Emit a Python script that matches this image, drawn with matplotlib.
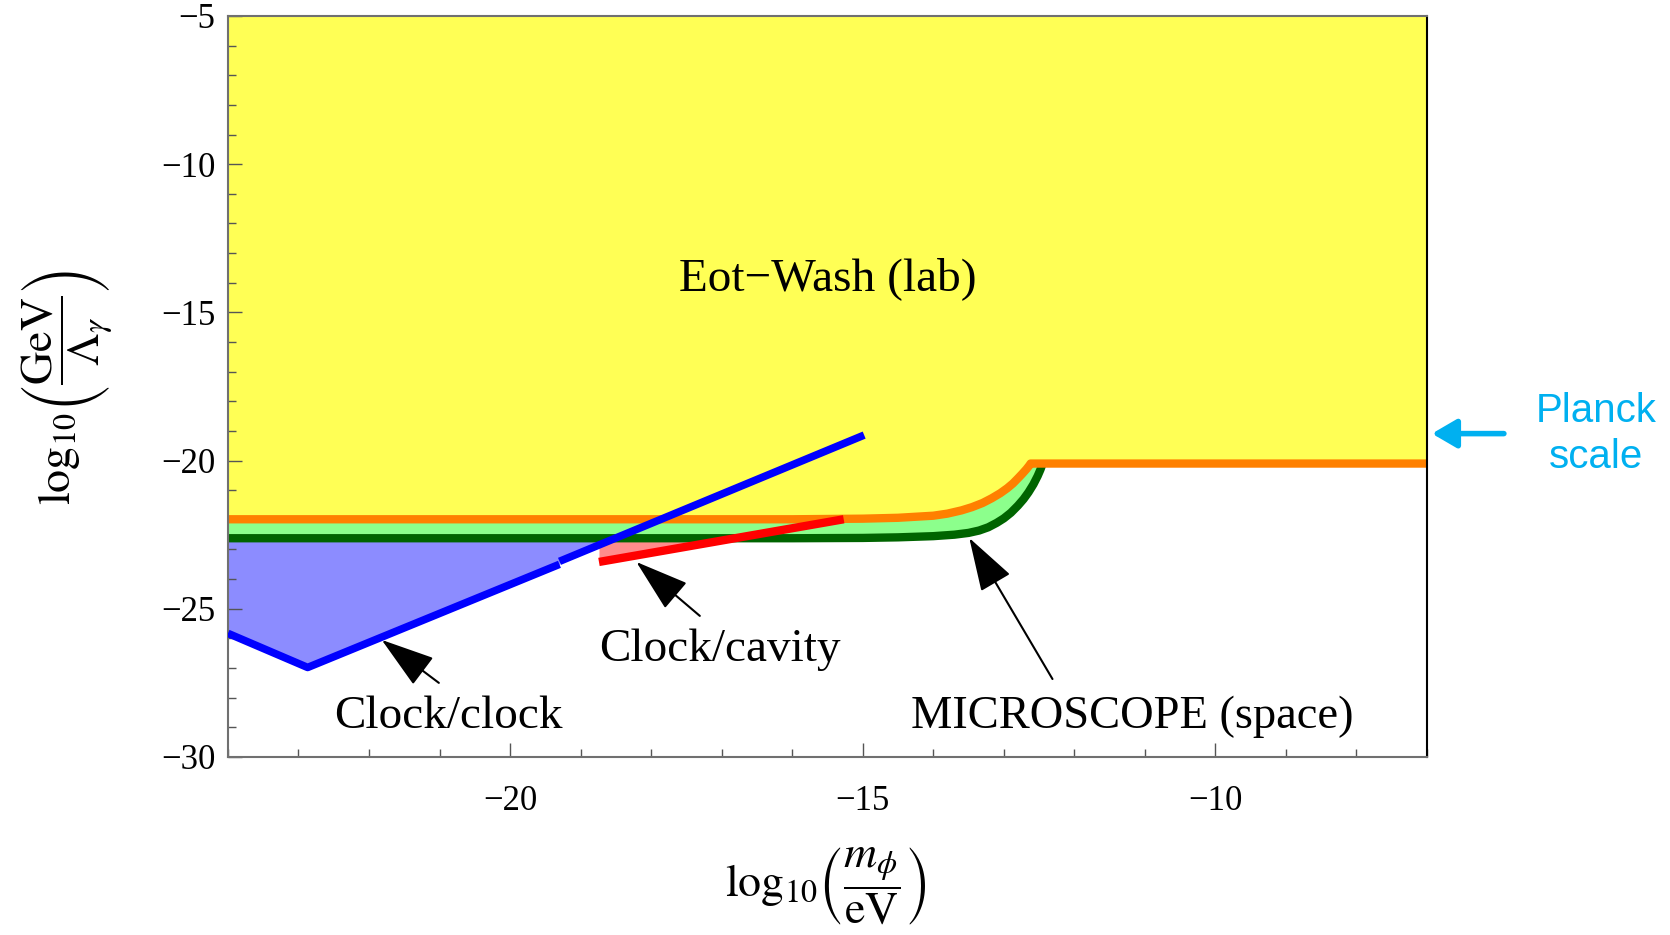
import numpy as np
import matplotlib
matplotlib.use("Agg")
import matplotlib.pyplot as plt
from matplotlib.ticker import MultipleLocator

plt.rcParams['font.family'] = ['Liberation Serif', 'DejaVu Serif']
plt.rcParams['mathtext.fontset'] = 'stix'

# Eot-Wash lower edge (orange)
eot_x = [-24.0, -16.0, -15.0, -14.5, -14.0, -13.8, -13.6, -13.45, -13.3, -13.17, -13.05,
         -12.95, -12.87, -12.8, -12.74, -12.68, -12.64, -12.62, -7.0]
eot_y = [-21.98, -21.98, -21.96, -21.93, -21.86, -21.79, -21.68, -21.57, -21.43, -21.27, -21.1,
         -20.93, -20.77, -20.6, -20.45, -20.29, -20.17, -20.1, -20.1]

# MICROSCOPE lower edge (dark green)
mic_x = [-24.0, -16.0, -15.0, -14.5, -14.0, -13.7, -13.5, -13.35, -13.22, -13.1, -13.0,
         -12.9, -12.8, -12.72, -12.65, -12.58, -12.52, -12.48, -12.45]
mic_y = [-22.62, -22.62, -22.61, -22.59, -22.55, -22.5, -22.44, -22.36, -22.25, -22.1, -21.95,
         -21.76, -21.52, -21.3, -21.07, -20.8, -20.52, -20.3, -20.1]

# clock/clock (blue), two pieces
cc_x1 = [-24.0, -22.87, -19.3]
cc_y1 = [-25.83, -26.98, -23.5]
cc_x2 = [-19.3, -14.98]
cc_y2 = [-23.4, -19.14]

# clock/cavity (red)
cav_x = [-18.74, -15.27]
cav_y = [-23.42, -21.98]

planck = -19.09

fig = plt.figure(figsize=(16.7, 9.35), dpi=100)
ax = fig.add_axes([0.1365, 0.1904, 0.718, 0.7925])

ax.fill_between(eot_x, eot_y, -5, color='#ffff55', lw=0, zorder=1)
ax.fill(list(eot_x[:-1]) + mic_x[::-1], list(eot_y[:-1]) + mic_y[::-1],
        color='#8cff8c', lw=0, zorder=1)

cc_x = np.array(cc_x1 + cc_x2)
cc_y = np.array(cc_y1 + cc_y2)
mic_at_cc = np.interp(cc_x, mic_x, mic_y)
ax.fill_between(cc_x, cc_y, mic_at_cc, where=cc_y < mic_at_cc, interpolate=True,
                color='#8c8cff', lw=0, zorder=1)
cav_xa = np.array(cav_x)
cav_ya = np.array(cav_y)
mic_at_cav = np.interp(cav_xa, mic_x, mic_y)
ax.fill_between(cav_xa, cav_ya, mic_at_cav, where=cav_ya < mic_at_cav, interpolate=True,
                color='#ff8c8c', lw=0, zorder=1)

ax.plot(mic_x, mic_y, color='#006400', lw=6, zorder=2, solid_capstyle='butt')
ax.plot(eot_x, eot_y, color='#ff8000', lw=6, zorder=2, solid_capstyle='butt')
ax.plot(cc_x1, cc_y1, color='#0000ff', lw=5.5, zorder=3, solid_capstyle='butt')
ax.plot(cc_x2, cc_y2, color='#0000ff', lw=5.5, zorder=3, solid_capstyle='butt')
ax.plot(cav_x, cav_y, color='#ff0000', lw=6, zorder=3, solid_capstyle='butt')

ax.set_xlim(-24, -7)
ax.set_ylim(-30, -5)
ax.set_xticks([-20, -15, -10])
ax.set_yticks([-30, -25, -20, -15, -10, -5])
ax.xaxis.set_minor_locator(MultipleLocator(1))
ax.yaxis.set_minor_locator(MultipleLocator(1))
ax.tick_params(which='both', direction='in', top=False, right=False, color='#555555', width=1)
ax.tick_params(which='major', length=10, labelsize=25)
ax.tick_params(which='minor', length=6)
ax.tick_params(axis='x', pad=20)
ax.tick_params(axis='y', pad=9)
for s in ['left', 'bottom', 'top']:
    ax.spines[s].set_color('#707070')
    ax.spines[s].set_linewidth(1.5)
ax.spines['right'].set_color('black')
ax.spines['right'].set_linewidth(1.5)

ax.text(-15.5, -13.87, 'Eot\u2212Wash (lab)', fontsize=34, ha='center', va='center', zorder=5)
ax.text(-20.87, -28.65, 'Clock/clock', fontsize=34, ha='center', va='center', zorder=5)
ax.text(-17.03, -26.39, 'Clock/cavity', fontsize=34, ha='center', va='center', zorder=5)
ax.text(-11.18, -28.65, 'MICROSCOPE (space)', fontsize=33.5, ha='center', va='center', zorder=5)

arrow_kw = dict(arrowstyle='-|>,head_length=0.85,head_width=0.27', color='black',
                lw=1.5, mutation_scale=40, shrinkA=0, shrinkB=0)
ax.annotate('', xy=(-21.82, -26.05), xytext=(-21.01, -27.5), arrowprops=arrow_kw, zorder=5)
ax.annotate('', xy=(-18.21, -23.42), xytext=(-17.31, -25.24), arrowprops=arrow_kw, zorder=5)
ax.annotate('', xy=(-13.49, -22.61), xytext=(-12.31, -27.37), arrowprops=arrow_kw, zorder=5)

ax.annotate('', xy=(-6.93, planck), xytext=(-5.91, planck),
            arrowprops=dict(arrowstyle='-|>,head_length=0.6,head_width=0.35', color='#00b0f0',
                            lw=4, mutation_scale=25, shrinkA=0, shrinkB=0),
            annotation_clip=False)
fig.text(1596 / 1670, 1 - 434 / 935, 'Planck\nscale', color='#00b0f0', fontsize=29,
         family='Liberation Sans', ha='center', va='center', linespacing=1.3)

fig.text(68 / 1670, 1 - 387 / 935,
         r'$\log_{10}\!\left(\dfrac{\mathrm{GeV}}{\Lambda_{\gamma}}\right)$',
         fontsize=33, rotation=90, ha='center', va='center')
fig.text(826 / 1670, 1 - 887 / 935,
         r'$\log_{10}\!\left(\dfrac{m_{\phi}}{\mathrm{eV}}\right)$',
         fontsize=33, ha='center', va='center')

fig.savefig('out.png', dpi=100)
